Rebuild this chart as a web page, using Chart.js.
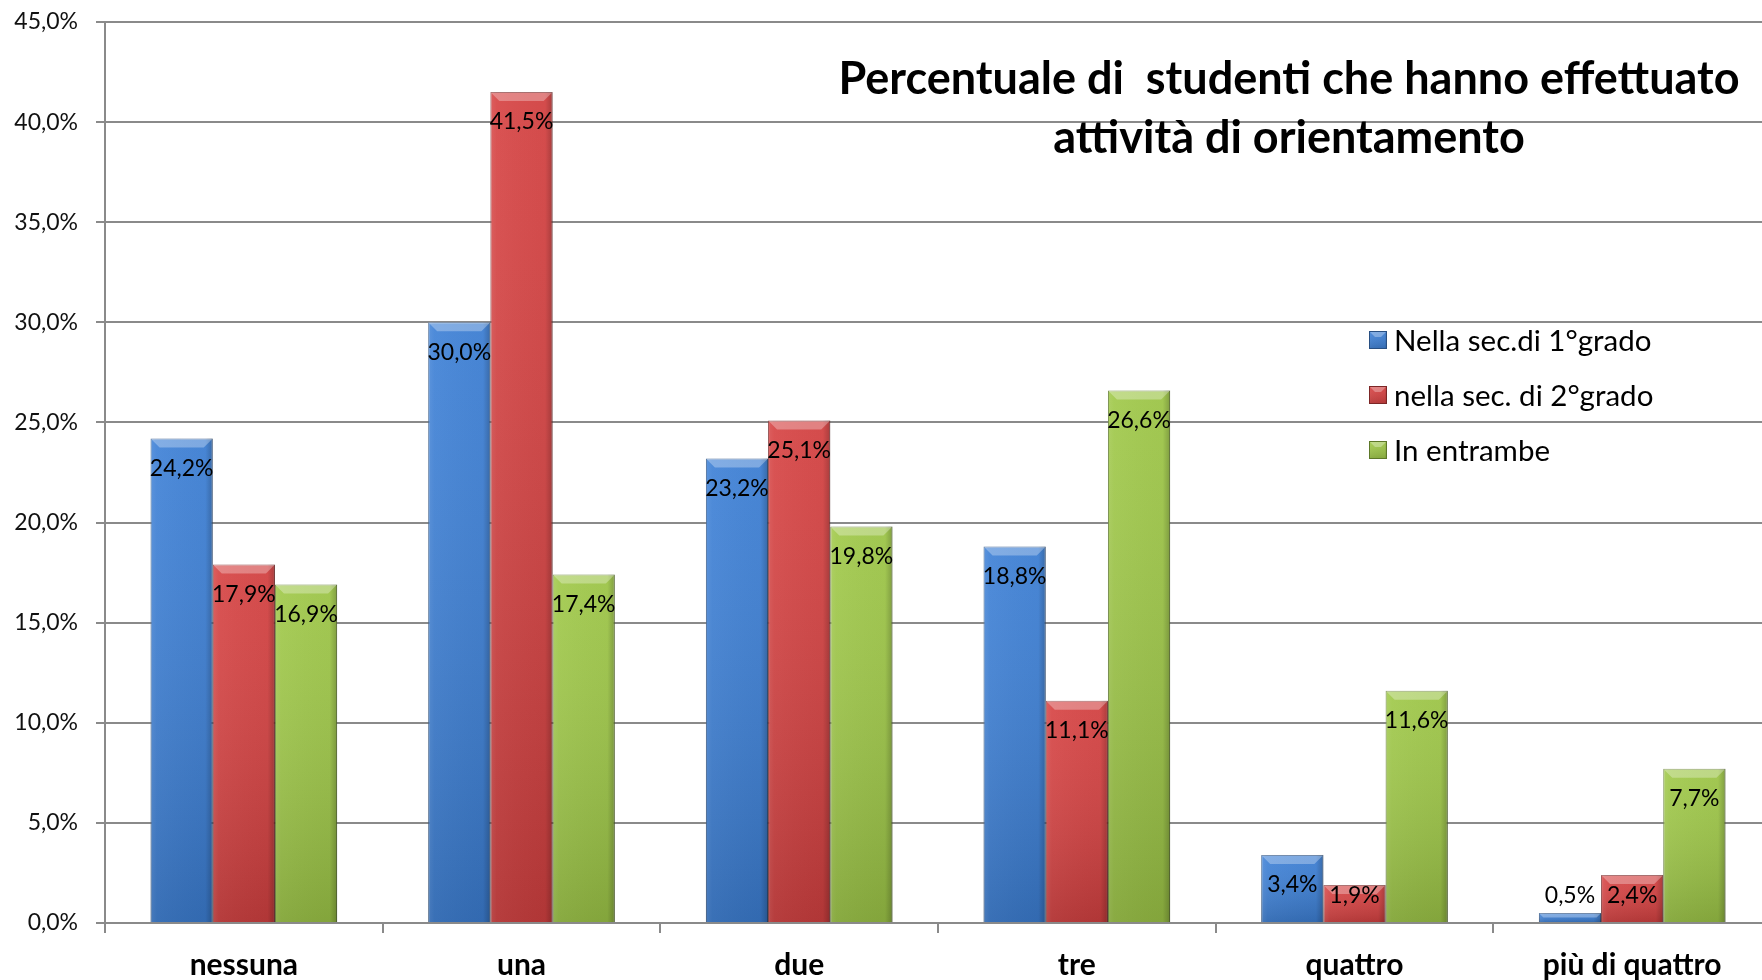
<!DOCTYPE html>
<html>
<head>
<meta charset="utf-8">
<script src="https://cdn.jsdelivr.net/npm/chart.js@4.4.0/dist/chart.umd.min.js"></script>
<style>
  html, body { margin: 0; padding: 0; background: #fff; overflow: hidden; }
  #wrap { width: 1771px; height: 980px; }
</style>
</head>
<body>
<div id="wrap"><canvas id="chart"></canvas></div>
<script>
const categories = ['nessuna', 'una', 'due', 'tre', 'quattro', 'più di quattro'];
const primoGrado = [24.2, 30.0, 23.2, 18.8, 3.4, 0.5];
const secondoGrado = [17.9, 41.5, 25.1, 11.1, 1.9, 2.4];
const entrambe = [16.9, 17.4, 19.8, 26.6, 11.6, 7.7];
const seriesNames = ['Nella sec.di 1°grado', 'nella sec. di 2°grado', 'In entrambe'];
const yTicks = [0, 5, 10, 15, 20, 25, 30, 35, 40, 45];
const titleLines = ['Percentuale di  studenti che hanno effettuato', 'attività di orientamento'];

const palette = [
    { fill: '#3d80d6', border: '#284f82' },
    { fill: '#d64242', border: '#7c2626' },
    { fill: '#9fc848', border: '#5d7829' }
];

const fmt = v => v.toFixed(1).replace('.', ',') + '%';

const makeDataset = (label, data, i) => ({
    label: label,
    data: data,
    backgroundColor: palette[i].fill,
    borderColor: palette[i].border,
    borderWidth: 1,
    categoryPercentage: 0.672,
    barPercentage: 1
});

// draws the bevel shading over a box
const bevel = (c, left, top, w, h, size) => {
    const right = left + w;
    const bottom = top + h;
    let g = c.createLinearGradient(0, top, 0, bottom);
    g.addColorStop(0, 'rgba(255,255,255,0.06)');
    g.addColorStop(1, 'rgba(0,0,0,0.16)');
    c.fillStyle = g;
    c.fillRect(left, top, w, h);
    g = c.createLinearGradient(left, 0, right, 0);
    g.addColorStop(0, 'rgba(255,255,255,0.10)');
    g.addColorStop(0.1, 'rgba(255,255,255,0.03)');
    g.addColorStop(0.88, 'rgba(0,0,0,0.02)');
    g.addColorStop(1, 'rgba(0,0,0,0.22)');
    c.fillStyle = g;
    c.fillRect(left, top, w, h);
    const b = Math.min(size, h / 2);
    c.fillStyle = 'rgba(255,255,255,0.3)';
    c.beginPath();
    c.moveTo(left, top);
    c.lineTo(right, top);
    c.lineTo(right - b, top + b);
    c.lineTo(left + b, top + b);
    c.closePath();
    c.fill();
};

// bevel look, value labels, title and legend
const decor = {
    id: 'decor',
    afterDatasetsDraw(chart) {
        const c = chart.ctx;
        const zero = chart.scales.y.getPixelForValue(0);
        chart.data.datasets.forEach((ds, di) => {
            chart.getDatasetMeta(di).data.forEach((el) => {
                c.save();
                bevel(c, el.x - el.width / 2, el.y, el.width, el.base - el.y, 9);
                c.restore();
            });
        });
        c.save();
        c.fillStyle = '#000';
        c.font = '23px Lato';
        c.textAlign = 'center';
        c.textBaseline = 'middle';
        chart.data.datasets.forEach((ds, di) => {
            chart.getDatasetMeta(di).data.forEach((el, i) => {
                const y = Math.min(el.y + 30, zero - 27);
                c.fillText(fmt(ds.data[i]), el.x, y);
            });
        });
        c.restore();
    },
    afterDraw(chart) {
        const c = chart.ctx;
        c.save();
        c.fillStyle = '#000';
        c.textAlign = 'center';
        c.textBaseline = 'middle';
        c.font = 'bold 45px Lato';
        c.fillText(titleLines[0], 1289, 79);
        c.fillText(titleLines[1], 1289, 138);

        c.textAlign = 'left';
        c.font = '29.5px Lato';
        seriesNames.forEach((name, i) => {
            const y = 340 + i * 55;
            c.fillStyle = palette[i].fill;
            c.fillRect(1369, y - 9, 18, 18);
            bevel(c, 1369, y - 9, 18, 18, 6);
            c.strokeStyle = palette[i].border;
            c.lineWidth = 1;
            c.strokeRect(1369.5, y - 8.5, 17, 17);
            c.fillStyle = '#000';
            c.fillText(name, 1394, y + 1);
        });
        c.restore();
    }
};

new Chart(document.getElementById('chart'), {
    type: 'bar',
    data: {
        labels: categories,
        datasets: [
            makeDataset(seriesNames[0], primoGrado, 0),
            makeDataset(seriesNames[1], secondoGrado, 1),
            makeDataset(seriesNames[2], entrambe, 2)
        ]
    },
    options: {
        responsive: true,
        maintainAspectRatio: false,
        animation: false,
        layout: { padding: { top: 22, right: 0, bottom: 0, left: 0 } },
        plugins: {
            legend: { display: false },
            title: { display: false },
            tooltip: { enabled: false }
        },
        scales: {
            x: {
                grid: {
                    offset: true,
                    drawOnChartArea: false,
                    color: '#8a8a8a',
                    lineWidth: 2,
                    tickLength: 10
                },
                border: { color: '#8a8a8a', width: 2 },
                ticks: {
                    color: '#000',
                    font: { family: 'Lato', size: 30, weight: 'bold' },
                    padding: 14,
                    maxRotation: 0
                },
                afterFit(scale) {
                    scale.height = 57;
                    scale.paddingLeft = 0;
                    scale.paddingRight = 0;
                }
            },
            y: {
                min: 0,
                max: 45,
                afterBuildTicks(scale) { scale.ticks = yTicks.map(v => ({ value: v })); },
                grid: {
                    color: '#8a8a8a',
                    lineWidth: 2,
                    tickLength: 9
                },
                border: { color: '#8a8a8a', width: 2 },
                ticks: {
                    color: '#111',
                    font: { family: 'Lato', size: 23 },
                    padding: 18,
                    callback: v => fmt(v)
                },
                afterFit(scale) {
                    scale.width = 105;
                    scale.paddingTop = 0;
                    scale.paddingBottom = 0;
                }
            }
        }
    },
    plugins: [decor]
});
</script>
</body>
</html>
